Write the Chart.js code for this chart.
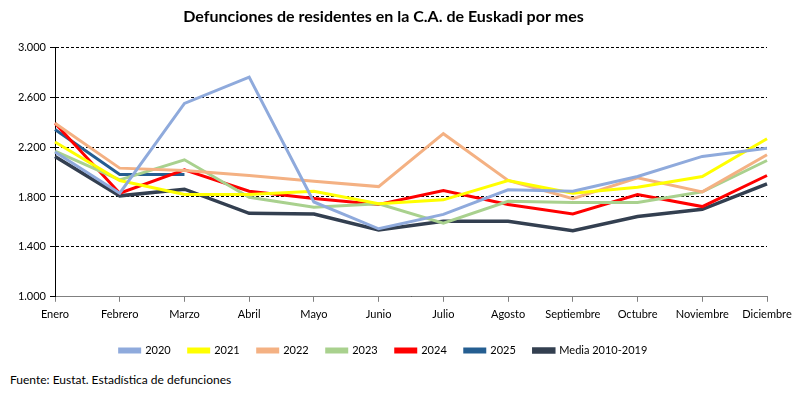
<!DOCTYPE html>
<html>
<head>
<meta charset="utf-8">
<script src="https://cdn.jsdelivr.net/npm/chart.js@4"></script>
<style>
  html, body { margin: 0; padding: 0; background: #fff; }
  #wrap { position: relative; width: 800px; height: 394px; }
  #myChart { position: absolute; left: 0; top: 0; }
  #source { position: absolute; left: 10px; top: 372px; font: 12px Lato, sans-serif; color: #000; }
</style>
</head>
<body>
<div id="wrap">
  <canvas id="myChart" width="800" height="366"></canvas>
  <div id="source">Fuente: Eustat. Estadística de defunciones</div>
</div>
<script>
const months = ['Enero', 'Febrero', 'Marzo', 'Abril', 'Mayo', 'Junio', 'Julio', 'Agosto', 'Septiembre', 'Octubre', 'Noviembre', 'Diciembre'];

const y2020 = [2160, 1830, 2550, 2760, 1760, 1545, 1660, 1857, 1846, 1964, 2125, 2190];
const y2021 = [2240, 1932, 1819, 1819, 1846, 1745, 1777, 1932, 1830, 1878, 1964, 2267];
const y2022 = [2390, 2031, 2012, 1972, 1926, 1883, 2307, 1932, 1787, 1953, 1841, 2138];
const y2023 = [2167, 1937, 2098, 1798, 1717, 1745, 1589, 1765, 1755, 1755, 1841, 2092];
const y2024 = [2390, 1830, 2017, 1846, 1787, 1739, 1851, 1739, 1664, 1819, 1723, 1972];
const y2025 = [2340, 1980, 1980, null, null, null, null, null, null, null, null, null];
const media = [2125, 1809, 1862, 1669, 1664, 1536, 1605, 1605, 1530, 1643, 1701, 1905];

const yTicks = [1000, 1400, 1800, 2200, 2600, 3000];

const seriesNames = ['2020', '2021', '2022', '2023', '2024', '2025', 'Media 2010-2019'];
const seriesData = [y2020, y2021, y2022, y2023, y2024, y2025, media];
const seriesColors = ['#8FAADC', '#FFFF00', '#F4B183', '#A9D18E', '#FF0000', '#255E91', '#333F50'];

const fontFam = 'Lato, sans-serif';

const datasets = seriesNames.map((name, i) => ({
  label: name,
  data: seriesData[i],
  borderColor: seriesColors[i],
  backgroundColor: seriesColors[i],
  borderWidth: i === 6 ? 3.5 : 3,
  pointRadius: 0,
  tension: 0,
  spanGaps: false,
}));

const ctx = document.getElementById('myChart').getContext('2d');
new Chart(ctx, {
  type: 'line',
  data: { labels: months, datasets: datasets },
  options: {
    responsive: false,
    animation: false,
    layout: { padding: { left: 0, right: 33, top: 0, bottom: 0 } },
    plugins: {
      title: {
        display: true,
        text: 'Defunciones de residentes en la C.A. de Euskadi por mes',
        color: '#000',
        font: { family: fontFam, size: 16, weight: 'bold' },
        padding: { top: 7, bottom: 21 },
      },
      legend: {
        position: 'bottom',
        labels: {
          color: '#000',
          font: { family: fontFam, size: 11 },
          boxWidth: 20,
          boxHeight: 3,
          padding: 18,
        },
      },
      tooltip: { enabled: false },
    },
    scales: {
      x: {
        offset: false,
        grid: { drawOnChartArea: false, drawTicks: true, tickLength: 5, color: '#808080' },
        border: { color: '#808080', width: 1 },
        ticks: { color: '#000', font: { family: fontFam, size: 11 }, maxRotation: 0, autoSkip: false, padding: 6 },
      },
      y: {
        min: 1000,
        max: 3000,
        afterBuildTicks: (axis) => { axis.ticks = yTicks.map(v => ({ value: v })); },
        afterFit: (axis) => { axis.width = 55; },
        grid: { color: '#000', lineWidth: 1, drawTicks: true, tickLength: 5, tickColor: '#000' },
        border: { color: '#000', width: 1, dash: [3, 2] },
        ticks: {
          color: '#000',
          font: { family: fontFam, size: 11 },
          padding: 4,
          callback: (v) => v.toLocaleString('de-DE', { minimumFractionDigits: 3 }).replace(',000', ''),
        },
      },
    },
  },
});
</script>
</body>
</html>
